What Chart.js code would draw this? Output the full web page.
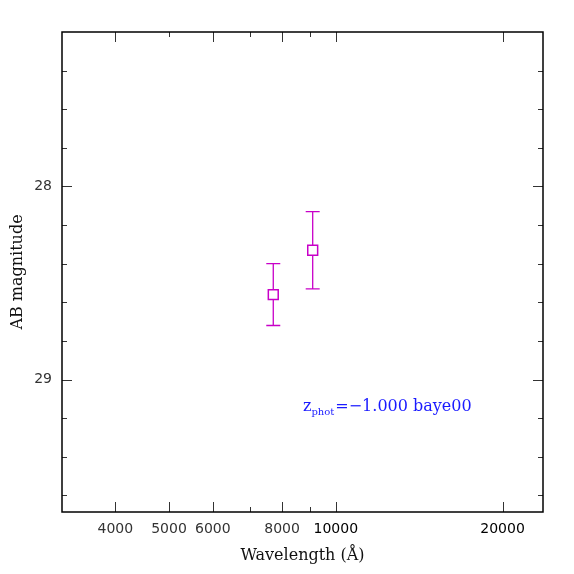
<!DOCTYPE html>
<html>
<head>
<meta charset="utf-8">
<script src="https://cdn.jsdelivr.net/npm/chart.js@4.4.0/dist/chart.umd.min.js"></script>
<style>
  html, body { margin: 0; padding: 0; background: #fff; }
  #wrap { width: 574px; height: 574px; }
</style>
</head>
<body>
<div id="wrap"><canvas id="sed" width="574" height="574"></canvas></div>
<script>
// photometry points (wavelength in Angstrom, AB magnitude, 1-sigma error)
var wavelengths = [7712, 9085];
var magnitudes = [28.56, 28.33];
var magErrors = [0.16, 0.20];

// axis ticks
var xLabelTicks = [4000, 5000, 6000, 8000, 10000, 20000];
var xMinorTicks = [7000, 9000];
var xTopShort = [5000];
var yMajorTicks = [28, 29];
var yMinorTicks = [27.4, 27.6, 27.8, 28.2, 28.4, 28.6, 28.8, 29.2, 29.4, 29.6];

var zphot = '-1.000';
var templateName = 'baye00';

var MAGENTA = '#c800c8';
var SERIF = '"DejaVu Serif", "Liberation Serif", serif';
var SANS = '"DejaVu Sans", "Liberation Sans", sans-serif';

// frame, inward ticks, error bars and the redshift note
var sedDecor = {
    id: 'sedDecor',
    beforeDatasetsDraw: function (chart) {
        var ctx = chart.ctx, xs = chart.scales.x, ys = chart.scales.y;
        ctx.save();
        ctx.strokeStyle = MAGENTA;
        ctx.lineWidth = 1.3;
        for (var i = 0; i < wavelengths.length; i++) {
            var px = xs.getPixelForValue(wavelengths[i]);
            var top = ys.getPixelForValue(magnitudes[i] - magErrors[i]);
            var bot = ys.getPixelForValue(magnitudes[i] + magErrors[i]);
            ctx.beginPath();
            ctx.moveTo(px, top); ctx.lineTo(px, bot);
            ctx.moveTo(px - 7, top); ctx.lineTo(px + 7, top);
            ctx.moveTo(px - 7, bot); ctx.lineTo(px + 7, bot);
            ctx.stroke();
        }
        ctx.restore();
    },
    afterDraw: function (chart) {
        var ctx = chart.ctx, a = chart.chartArea;
        var xs = chart.scales.x, ys = chart.scales.y;
        ctx.save();
        ctx.strokeStyle = '#333';
        ctx.lineWidth = 1;
        function tickX(v, lenBot, lenTop) {
            var p = Math.round(xs.getPixelForValue(v)) + 0.5;
            ctx.beginPath();
            ctx.moveTo(p, a.bottom); ctx.lineTo(p, a.bottom - lenBot);
            ctx.moveTo(p, a.top); ctx.lineTo(p, a.top + lenTop);
            ctx.stroke();
        }
        function tickY(v, len) {
            var p = Math.round(ys.getPixelForValue(v)) + 0.5;
            ctx.beginPath();
            ctx.moveTo(a.left, p); ctx.lineTo(a.left + len, p);
            ctx.moveTo(a.right, p); ctx.lineTo(a.right - len, p);
            ctx.stroke();
        }
        xLabelTicks.forEach(function (v) {
            tickX(v, 10, xTopShort.indexOf(v) >= 0 ? 5 : 10);
        });
        xMinorTicks.forEach(function (v) { tickX(v, 5, 5); });
        yMajorTicks.forEach(function (v) { tickY(v, 10); });
        yMinorTicks.forEach(function (v) { tickY(v, 5); });

        ctx.strokeStyle = '#000';
        ctx.lineWidth = 1.5;
        ctx.strokeRect(a.left, a.top, a.right - a.left, a.bottom - a.top);

        // z_phot note
        var x = a.left + 241, y = a.top + 379;
        ctx.fillStyle = '#1a1aff';
        ctx.textBaseline = 'alphabetic';
        ctx.textAlign = 'left';
        ctx.font = '16px ' + SERIF;
        ctx.fillText('z', x, y);
        x += ctx.measureText('z').width;
        ctx.font = '10px ' + SERIF;
        ctx.fillText('phot', x, y + 4);
        x += ctx.measureText('phot').width + 1;
        ctx.font = '16px ' + SERIF;
        ctx.fillText('=' + zphot.replace('-', '\u2212') + ' ' + templateName, x, y);
        ctx.restore();
    }
};

var points = wavelengths.map(function (w, i) { return { x: w, y: magnitudes[i] }; });

new Chart(document.getElementById('sed'), {
    type: 'scatter',
    data: {
        datasets: [{
            data: points,
            pointStyle: 'rect',
            pointRadius: 7,
            pointBorderWidth: 1.5,
            pointBorderColor: MAGENTA,
            pointBackgroundColor: '#fff',
            pointHoverRadius: 7
        }]
    },
    options: {
        responsive: false,
        animation: false,
        events: [],
        layout: { padding: { left: 8, right: 31, top: 32, bottom: 9 } },
        plugins: { legend: { display: false }, tooltip: { enabled: false } },
        scales: {
            x: {
                type: 'logarithmic',
                min: 3205,
                max: 23660,
                grid: { display: false, drawTicks: false },
                border: { display: false },
                afterBuildTicks: function (s) {
                    s.ticks = xLabelTicks.map(function (v) { return { value: v }; });
                },
                afterFit: function (s) { s.height = 53; },
                ticks: {
                    autoSkip: false, maxRotation: 0, padding: 9,
                    color: function (c) { return c.tick && c.tick.value >= 10000 ? '#000' : '#333'; },
                    font: { family: SANS, size: 14 },
                    callback: function (v) { return String(v); }
                },
                title: {
                    display: true, text: 'Wavelength (\u00c5)', padding: 0,
                    color: '#111', font: { family: SERIF, size: 16 }
                }
            },
            y: {
                type: 'linear',
                reverse: true,
                min: 27.2,
                max: 29.686,
                grid: { display: false, drawTicks: false },
                border: { display: false },
                afterBuildTicks: function (s) {
                    s.ticks = yMajorTicks.map(function (v) { return { value: v }; });
                },
                afterFit: function (s) { s.width = 54; },
                ticks: {
                    autoSkip: false, padding: 10,
                    color: '#333',
                    font: { family: SANS, size: 14 },
                    callback: function (v) { return String(v); }
                },
                title: {
                    display: true, text: 'AB magnitude', padding: 0,
                    color: '#111', font: { family: SERIF, size: 16 }
                }
            }
        }
    },
    plugins: [sedDecor]
});
</script>
</body>
</html>
